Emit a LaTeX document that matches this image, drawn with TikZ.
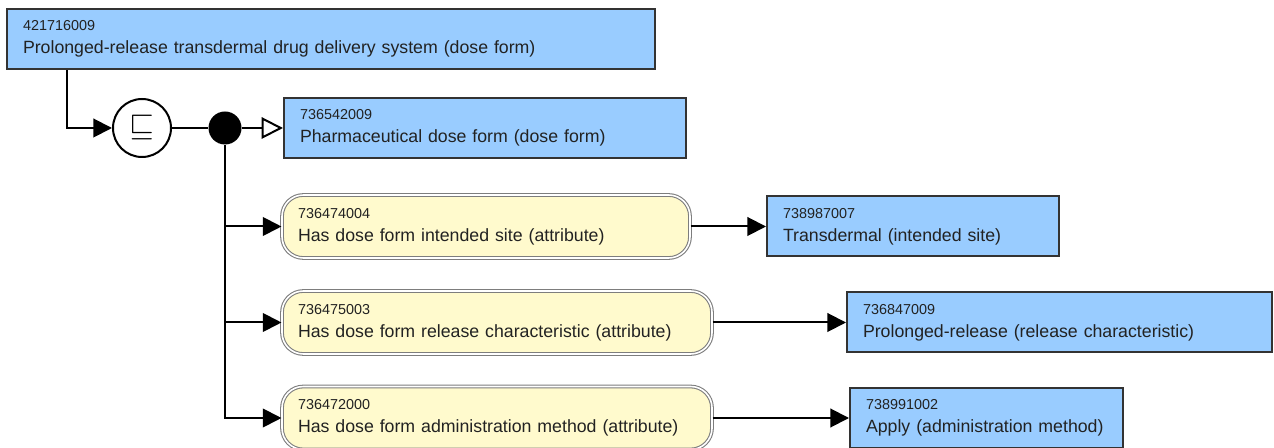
\documentclass[tikz,border=0pt]{standalone}
\usepackage{fontspec}
\setmainfont{Liberation Sans}
\usepackage{graphicx}
\usetikzlibrary{arrows.meta,positioning}
\definecolor{snblue}{RGB}{153,204,255}
\definecolor{snyellow}{RGB}{255,250,205}
\definecolor{snedge}{RGB}{51,51,51}
\definecolor{sngray}{RGB}{125,125,125}
\definecolor{sntext}{RGB}{34,34,34}
\newcommand{\conceptid}[2]{{\fontsize{10.8}{13}\selectfont #1}\\#2}

\begin{document}
\begin{tikzpicture}[x=0.75pt,y=-0.75pt,
    concept/.style={draw=snedge,line width=1.5pt,fill=snblue,text=sntext,align=left,
        inner xsep=12pt,minimum height=45pt,text width=#1,font=\fontsize{13.3}{17.3}\selectfont},
    attrib/.style={draw=sngray,line width=0.8pt,double=white,double distance=1.2pt,
        fill=snyellow,rounded corners=16pt,text=sntext,align=left,
        inner xsep=12pt,minimum height=47.25pt,text width=#1,font=\fontsize{13.3}{17.3}\selectfont},
    conn/.style={line width=1.5pt,-{Triangle[length=14pt,width=14pt]}}]
  \useasboundingbox (0,0) rectangle (1274,448);

  % Defined concept
  \node[concept=462pt] (top) at (331,39)
        {\conceptid{421716009}{Prolonged-release transdermal drug delivery system (dose form)}};

  % Subsumption and conjunction
  \node[circle,draw=black,line width=1.5pt,fill=white,minimum size=43.5pt,inner sep=0pt]
        (sub) at (142,128) {\scalebox{2.4}{$\sqsubseteq$}};
  \node[circle,fill=black,minimum size=24.75pt,inner sep=0pt] (dot) at (225,128) {};

  % Parent concept
  \node[concept=277.5pt] (pdf) at (485,128)
        {\conceptid{736542009}{Pharmaceutical dose form (dose form)}};

  % Attributes and values
  \node[attrib=282pt] (att1) at (486,226.5)
        {\conceptid{736474004}{Has dose form intended site (attribute)}};
  \node[concept=195pt] (val1) at (913,226.5)
        {\conceptid{738987007}{Transdermal (intended site)}};
  \node[attrib=298.5pt] (att2) at (497,322.5)
        {\conceptid{736475003}{Has dose form release characteristic (attribute)}};
  \node[concept=294.75pt] (val2) at (1059.5,322.5)
        {\conceptid{736847009}{Prolonged-release (release characteristic)}};
  \node[attrib=298.5pt] (att3) at (497,418)
        {\conceptid{736472000}{Has dose form administration method (attribute)}};
  \node[concept=180.75pt] (val3) at (986.5,418)
        {\conceptid{738991002}{Apply (administration method)}};

  % Connectors
  \draw[conn] ([xshift=45.75pt]top.south west) |- (sub.west);
  \draw[line width=1.5pt] (sub.east) -- (dot);
  \draw[line width=1.5pt,-{Triangle[length=16pt,width=16pt,fill=white]}] (dot.east) -- (pdf.west);
  \draw[conn] (dot.south) |- (att3.west);
  \draw[conn] (dot |- att1.west) -- (att1.west);
  \draw[conn] (dot |- att2.west) -- (att2.west);
  \draw[conn] (att1.east) -- (val1.west);
  \draw[conn] (att2.east) -- (val2.west);
  \draw[conn] (att3.east) -- (val3.west);
\end{tikzpicture}
\end{document}
